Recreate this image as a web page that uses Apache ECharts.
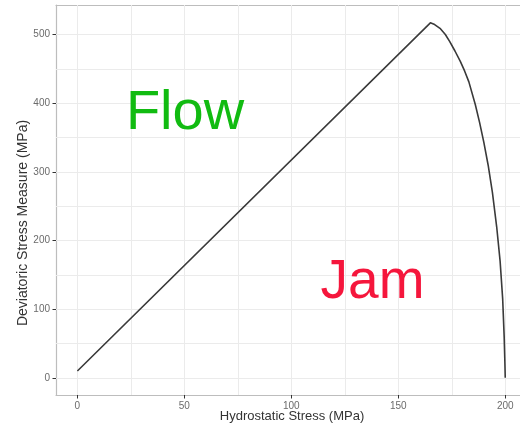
<!DOCTYPE html>
<html>
<head>
<meta charset="utf-8">
<script src="https://cdn.jsdelivr.net/npm/echarts@6/dist/echarts.min.js"></script>
<style>html,body{margin:0;padding:0;background:#fff}#c{width:520px;height:427px}</style>
</head>
<body>
<div id="c"></div>
<script>
// Data
const hydrostatic = [0, 165, 167, 169.5, 172, 174, 176.5, 179, 181, 183, 186, 188, 190, 192, 194, 196, 197.6, 198.8, 199.5, 199.85, 200];
const deviatoric  = [10, 517, 514.5, 509, 500, 490, 476, 461, 447, 431, 398, 372, 343, 310, 270, 220, 170, 115, 60, 20, 0];
const xTicks = [0, 50, 100, 150, 200];
const yTicks = [0, 100, 200, 300, 400, 500];
const xGrid = [0, 25, 50, 75, 100, 125, 150, 175, 200];
const yGrid = [0, 50, 100, 150, 200, 250, 300, 350, 400, 450, 500];
const xTitle = 'Hydrostatic Stress (MPa)';
const yTitle = 'Deviatoric Stress Measure (MPa)';
const regionLabels = ['Flow', 'Jam'];

const chart = echarts.init(document.getElementById('c'), null, {renderer: 'canvas'});
const font = 'Liberation Sans, Arial, sans-serif';
const gridColor = '#ebebeb';
const borderColor = '#bdbdbd';

chart.setOption({
  animation: false,
  backgroundColor: '#ffffff',
  grid: {left: 56, top: 5, right: 0, bottom: 32, show: false},
  xAxis: [{
    type: 'value', min: -10, max: 206.9, position: 'bottom',
    axisLine: {show: true, onZero: false, lineStyle: {color: borderColor, width: 1.2}},
    splitLine: {show: false},
    axisTick: {show: true, length: 3.5, customValues: xTicks, lineStyle: {color: '#333', width: 1}},
    axisLabel: {customValues: xTicks, margin: 6, color: '#6b6b6b', fontSize: 10, fontFamily: font}
  }, {
    type: 'value', min: -10, max: 206.9, position: 'top',
    axisLine: {show: true, onZero: false, lineStyle: {color: borderColor, width: 1.2}},
    splitLine: {show: false}, axisTick: {show: false}, axisLabel: {show: false}
  }],
  yAxis: {
    type: 'value', min: -25, max: 543,
    axisLine: {show: true, onZero: false, lineStyle: {color: borderColor, width: 1.2}},
    splitLine: {show: false},
    axisTick: {show: true, length: 3.5, customValues: yTicks, lineStyle: {color: '#333', width: 1}},
    axisLabel: {customValues: yTicks, margin: 6, color: '#6b6b6b', fontSize: 10, fontFamily: font}
  },
  series: [
    {
      type: 'line', data: [], silent: true, z: 1,
      markLine: {
        silent: true, z: 1, symbol: ['none', 'none'], label: {show: false}, animation: false,
        lineStyle: {color: gridColor, width: 1, type: 'solid'},
        data: xGrid.map(v => ({xAxis: v})).concat(yGrid.map(v => ({yAxis: v})))
      }
    },
    {
      type: 'line', z: 3,
      data: hydrostatic.map((x, i) => [x, deviatoric[i]]),
      showSymbol: false, symbol: 'none', smooth: false,
      lineStyle: {color: '#3a3a3a', width: 1.6, join: 'round'}
    }
  ],
  graphic: [
    {type: 'text', x: 185, y: 114, style: {text: regionLabels[0], fill: '#11bb11', font: '56px ' + font, textAlign: 'center', textVerticalAlign: 'middle'}, z: 10},
    {type: 'text', x: 372.5, y: 283, style: {text: regionLabels[1], fill: '#f5163c', font: '55px ' + font, textAlign: 'center', textVerticalAlign: 'middle'}, z: 10},
    {type: 'text', x: 292, y: 416, style: {text: xTitle, fill: '#333', font: '13px ' + font, textAlign: 'center', textVerticalAlign: 'middle'}, z: 10},
    {type: 'text', x: 23, y: 223, rotation: Math.PI / 2, style: {text: yTitle, fill: '#333', font: '14px ' + font, textAlign: 'center', textVerticalAlign: 'middle'}, z: 10}
  ]
});
</script>
</body>
</html>
